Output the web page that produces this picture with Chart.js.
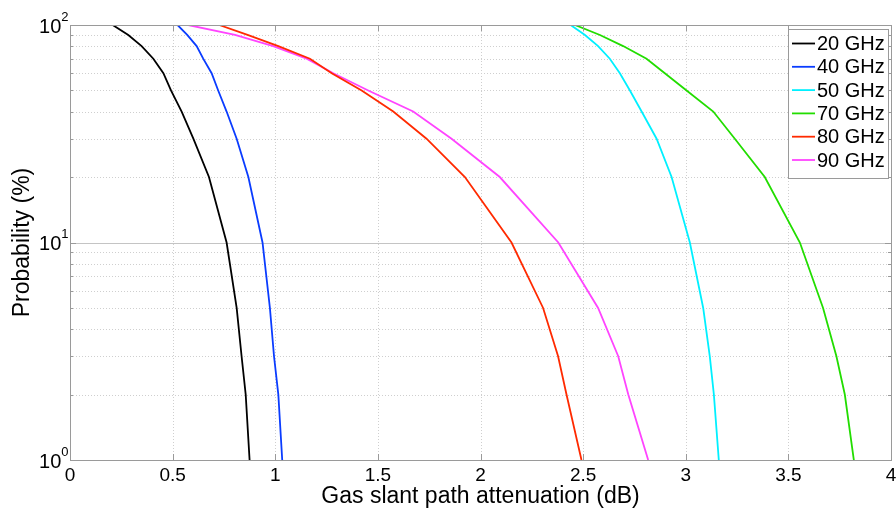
<!DOCTYPE html>
<html>
<head>
<meta charset="utf-8">
<title>Gas slant path attenuation</title>
<script src="https://cdn.jsdelivr.net/npm/chart.js@4/dist/chart.umd.min.js"></script>
<style>
  html, body { margin: 0; padding: 0; background: #fff; }
  #wrap { width: 896px; height: 508px; }
</style>
</head>
<body>
<div id="wrap"><canvas id="myChart" width="896" height="508"></canvas></div>
<script>
// probability levels (%) shared by every curve
var probs = [100, 90, 80, 70, 60, 50, 40, 30, 20, 10, 5, 3, 2, 1];

// attenuation (dB) at each probability level, one array per frequency
var att20 = [0.208, 0.284, 0.349, 0.406, 0.455, 0.492, 0.544, 0.601, 0.677, 0.763, 0.812, 0.836, 0.856, 0.875];
var att40 = [0.524, 0.571, 0.617, 0.649, 0.690, 0.722, 0.763, 0.812, 0.869, 0.938, 0.974, 0.994, 1.015, 1.034];
var att50 = [2.439, 2.509, 2.573, 2.630, 2.679, 2.728, 2.785, 2.858, 2.931, 3.020, 3.085, 3.117, 3.137, 3.161];
var att70 = [2.460, 2.582, 2.695, 2.809, 2.898, 3.004, 3.134, 3.239, 3.385, 3.556, 3.669, 3.734, 3.775, 3.819];
var att80 = [0.727, 0.865, 1.015, 1.169, 1.275, 1.421, 1.575, 1.737, 1.924, 2.151, 2.305, 2.378, 2.419, 2.492];
var att90 = [0.576, 0.804, 0.990, 1.153, 1.283, 1.453, 1.672, 1.859, 2.094, 2.379, 2.573, 2.671, 2.720, 2.817];

var seriesNames = ['20 GHz', '40 GHz', '50 GHz', '70 GHz', '80 GHz', '90 GHz'];
var seriesColors = ['#000000', '#0a3cff', '#00f0ff', '#22dd00', '#ff2a00', '#ff44ff'];
var seriesValues = [att20, att40, att50, att70, att80, att90];

// axis ticks
var xTicks = [0, 0.5, 1, 1.5, 2, 2.5, 3, 3.5, 4];
var yDecades = [1, 10, 100];
var yExponents = ['0', '1', '2'];
var yMinor = [2, 3, 4, 5, 6, 7, 8, 9, 20, 30, 40, 50, 60, 70, 80, 90];

var xTitle = 'Gas slant path attenuation (dB)';
var yTitle = 'Probability (%)';

var FONT = '"Liberation Sans", Arial, sans-serif';

function toPoints(vals) {
    var pts = [];
    for (var i = 0; i < vals.length; i++) {
        pts.push({x: vals[i], y: probs[i]});
    }
    return pts;
}

var datasets = [];
for (var i = 0; i < seriesNames.length; i++) {
    datasets.push({
        label: seriesNames[i],
        data: toPoints(seriesValues[i]),
        borderColor: seriesColors[i],
        backgroundColor: seriesColors[i],
        borderWidth: 1.8,
        pointRadius: 0,
        tension: 0,
        fill: false
    });
}

// matlab style axes: dotted grid under the curves, box/ticks/labels/legend on top
var axesPlugin = {
    id: 'axesPlugin',
    beforeDatasetsDraw: function (chart) {
        var ctx = chart.ctx, a = chart.chartArea;
        var xs = chart.scales.x, ys = chart.scales.y;
        ctx.save();
        ctx.lineWidth = 1;
        ctx.strokeStyle = '#cfcfcf';
        ctx.setLineDash([1, 2]);
        xTicks.forEach(function (v) {
            var px = Math.round(xs.getPixelForValue(v)) + 0.5;
            ctx.beginPath(); ctx.moveTo(px, a.top); ctx.lineTo(px, a.bottom); ctx.stroke();
        });
        yMinor.forEach(function (v) {
            var py = Math.round(ys.getPixelForValue(v)) + 0.5;
            ctx.beginPath(); ctx.moveTo(a.left, py); ctx.lineTo(a.right, py); ctx.stroke();
        });
        ctx.setLineDash([]);
        ctx.strokeStyle = '#c4c4c4';
        var p10 = Math.round(ys.getPixelForValue(10)) + 0.5;
        ctx.beginPath(); ctx.moveTo(a.left, p10); ctx.lineTo(a.right, p10); ctx.stroke();
        ctx.restore();
    },
    afterDatasetsDraw: function (chart) {
        var ctx = chart.ctx, a = chart.chartArea;
        var xs = chart.scales.x, ys = chart.scales.y;
        ctx.save();

        // box
        ctx.strokeStyle = '#9a9a9a';
        ctx.lineWidth = 1;
        ctx.strokeRect(Math.round(a.left) + 0.5, Math.round(a.top) + 0.5,
            Math.round(a.right - a.left), Math.round(a.bottom - a.top));

        // tick marks, pointing inward
        ctx.beginPath();
        xTicks.forEach(function (v) {
            var px = Math.round(xs.getPixelForValue(v)) + 0.5;
            ctx.moveTo(px, a.bottom); ctx.lineTo(px, a.bottom - 6);
            ctx.moveTo(px, a.top); ctx.lineTo(px, a.top + 6);
        });
        yDecades.forEach(function (v) {
            var py = Math.round(ys.getPixelForValue(v)) + 0.5;
            ctx.moveTo(a.left, py); ctx.lineTo(a.left + 6, py);
            ctx.moveTo(a.right, py); ctx.lineTo(a.right - 6, py);
        });
        yMinor.forEach(function (v) {
            var py = Math.round(ys.getPixelForValue(v)) + 0.5;
            ctx.moveTo(a.left, py); ctx.lineTo(a.left + 3, py);
            ctx.moveTo(a.right, py); ctx.lineTo(a.right - 3, py);
        });
        ctx.stroke();

        // x tick labels
        ctx.fillStyle = '#000';
        ctx.font = '19px ' + FONT;
        ctx.textAlign = 'center';
        ctx.textBaseline = 'alphabetic';
        xTicks.forEach(function (v) {
            ctx.fillText(String(v), xs.getPixelForValue(v), a.bottom + 21);
        });

        // y tick labels as 10^n
        yDecades.forEach(function (v, k) {
            var py = ys.getPixelForValue(v);
            ctx.font = '13px ' + FONT;
            ctx.textAlign = 'right';
            ctx.fillText(yExponents[k], a.left - 1.5, py - 4.3);
            var ew = ctx.measureText(yExponents[k]).width;
            ctx.font = '20px ' + FONT;
            ctx.fillText('10', a.left - 1.5 - ew, py + 7.7);
        });

        // axis titles
        ctx.font = '23px ' + FONT;
        ctx.textAlign = 'center';
        ctx.fillText(xTitle, (a.left + a.right) / 2, a.bottom + 43);
        ctx.save();
        ctx.translate(28.5, (a.top + a.bottom) / 2);
        ctx.rotate(-Math.PI / 2);
        ctx.fillText(yTitle, 0, 0);
        ctx.restore();

        // legend, top right inside the axes
        var lw = 100, lh = 149;
        var lx = Math.round(a.right - 3 - lw), ly = Math.round(a.top + 4);
        ctx.fillStyle = '#fff';
        ctx.fillRect(lx, ly, lw, lh);
        ctx.strokeStyle = '#9a9a9a';
        ctx.strokeRect(lx + 0.5, ly + 0.5, lw, lh);
        ctx.font = '20px ' + FONT;
        ctx.textAlign = 'left';
        ctx.textBaseline = 'middle';
        for (var i = 0; i < seriesNames.length; i++) {
            var ry = ly + 14.5 + i * 23.3;
            ctx.strokeStyle = seriesColors[i];
            ctx.lineWidth = 1.8;
            ctx.beginPath(); ctx.moveTo(lx + 4, ry); ctx.lineTo(lx + 27, ry); ctx.stroke();
            ctx.fillStyle = '#000';
            ctx.fillText(seriesNames[i], lx + 29, ry + 1);
        }
        ctx.restore();
    }
};

var chart1 = new Chart(document.getElementById('myChart').getContext('2d'), {
    type: 'line',
    data: {datasets: datasets},
    options: {
        responsive: false,
        animation: false,
        layout: {padding: {left: 70, top: 25, right: 5, bottom: 48}},
        plugins: {
            legend: {display: false},
            tooltip: {enabled: false}
        },
        scales: {
            x: {type: 'linear', min: 0, max: 4, display: false},
            y: {type: 'logarithmic', min: 1, max: 100, display: false}
        }
    },
    plugins: [axesPlugin]
});
</script>
</body>
</html>
